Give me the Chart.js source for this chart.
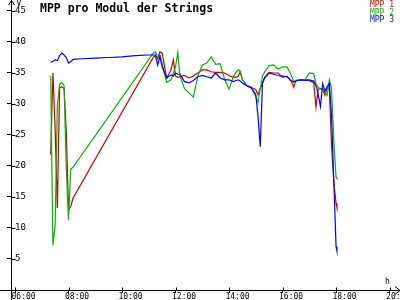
<!DOCTYPE html>
<html>
<head>
<meta charset="utf-8">
<script src="https://cdn.jsdelivr.net/npm/chart.js@4"></script>
<style>
  html, body { margin: 0; padding: 0; background: #fff; }
</style>
</head>
<body>
<canvas id="chart" width="400" height="300"></canvas>
<script>
// shared sample times (red/green have no samples between 08:10 and 11:10)
const times = [
    '07:20', '07:25', '07:30', '07:35', '07:40', '07:45', '07:50', '07:55', '08:00', '08:05', '08:10',
    '08:30', '09:00', '09:30', '10:00', '10:30', '11:00',
    '11:10', '11:15', '11:20', '11:25', '11:30', '11:40', '11:50', '11:55',
    '12:00', '12:05', '12:10', '12:20', '12:30', '12:40', '12:50',
    '13:00', '13:10', '13:20', '13:30', '13:40', '13:50',
    '14:00', '14:10', '14:20', '14:25', '14:30', '14:40', '14:50',
    '15:00', '15:05', '15:10', '15:15', '15:20', '15:30', '15:40', '15:50',
    '16:00', '16:10', '16:20', '16:25', '16:30', '16:40', '16:50',
    '17:00', '17:10', '17:15', '17:20', '17:25', '17:30', '17:35', '17:40', '17:45', '17:50', '17:55',
    '18:00', '18:02'
];

const mpp1 = [
    21.8, 35.0, 26.0, 13.2, 32.6, 32.8, 32.5, 25.6, 12.9, 13.5, 14.8,
    null, null, null, null, null, null,
    37.5, 37.8, 37.3, 38.4, 38.2, 34.2, 35.5, 37.1,
    34.5, 34.3, 34.4, 34.6, 34.2, 34.5, 35.0,
    35.5, 35.5, 35.2, 35.1, 35.1, 35.0,
    34.6, 34.3, 34.4, 35.2, 33.9, 33.0, 32.7,
    32.3, 31.5, 32.5, 33.4, 34.3, 35.1, 35.0, 35.0,
    34.3, 34.5, 33.6, 32.7, 33.8, 33.9, 33.9,
    33.8, 33.4, 29.5, 32.4, 32.5, 32.3, 31.4, 32.6, 32.5, 23.0, 17.5,
    14.0, 13.3
];

const mpp2 = [
    34.5, 7.2, 10.5, 29.8, 33.2, 33.5, 33.0, 19.8, 11.3, 19.5, 19.8,
    null, null, null, null, null, null,
    38.2, 38.4, 37.5, 37.8, 36.5, 33.5, 33.9, 35.0,
    36.0, 38.3, 34.5, 32.5, 31.8, 31.1, 34.5,
    36.3, 36.6, 37.6, 36.4, 36.5, 34.0,
    32.4, 34.5, 35.5, 35.3, 33.9, 33.0, 32.6,
    31.2, 30.2, 32.5, 34.5, 35.2, 36.2, 36.3, 35.6,
    36.0, 36.0, 34.6, 33.5, 33.8, 33.9, 33.8,
    35.0, 34.9, 33.2, 32.7, 32.4, 32.5, 31.8, 31.4, 33.9, 32.5, 24.0,
    18.2, 18.0
];

const mpp3 = [
    36.7, 36.9, 37.1, 37.0, 37.8, 38.2, 37.9, 37.5, 36.6, 36.8, 37.2,
    37.3, 37.4, 37.5, 37.6, 37.8, 37.9,
    37.9, 37.9, 36.3, 37.7, 36.0, 34.2, 34.7, 34.5,
    35.0, 34.8, 34.8, 33.6, 33.4, 33.8, 34.4,
    34.6, 34.4, 34.2, 35.0, 34.2, 33.9,
    33.9, 33.6, 33.9, 33.7, 33.4, 32.9, 32.6,
    31.5, 28.0, 23.1, 33.4, 34.2, 35.0, 34.8, 34.6,
    34.5, 34.4, 33.7, 33.6, 33.7, 33.9, 33.8,
    33.9, 33.7, 33.0, 31.5, 29.6, 33.3, 32.1, 32.8, 33.3, 28.0, 17.5,
    7.0, 6.3
];

const seriesLabels = ['MPP 1', 'MPP 2', 'MPP 3'];
const seriesColors = ['#c80000', '#00b400', '#0000ff'];
const titleText = 'MPP pro Modul der Strings';

function toHours(t) {
    const p = t.split(':');
    return +p[0] + p[1] / 60;
}

function points(values) {
    return times.map((t, i) => ({ x: toHours(t), y: values[i] }));
}

const monoFont = '"DejaVu Sans Mono", "Liberation Mono", monospace';

// title, legend, arrows and the inner halves of the tick marks
const decor = {
    id: 'decor',
    afterDraw(chart) {
        const ctx = chart.ctx;
        const a = chart.chartArea;
        const xs = chart.scales.x;
        const ys = chart.scales.y;
        const x0 = Math.round(a.left) + 0.5;
        const y0 = Math.round(a.bottom) + 0.5;

        ctx.save();
        ctx.strokeStyle = '#000';
        ctx.lineWidth = 1;
        ctx.beginPath();
        ctx.moveTo(0, y0); ctx.lineTo(a.left, y0);
        ctx.moveTo(x0, 0); ctx.lineTo(x0, a.top);
        ctx.moveTo(x0, a.bottom); ctx.lineTo(x0, chart.height);
        ctx.moveTo(x0 - 3, 5); ctx.lineTo(x0, 0.5); ctx.lineTo(x0 + 3, 5);
        ctx.moveTo(a.right - 5, y0 - 4); ctx.lineTo(a.right, y0); ctx.lineTo(a.right - 5, y0 + 4);
        xs.ticks.forEach(t => {
            const px = Math.round(xs.getPixelForValue(t.value)) + 0.5;
            ctx.moveTo(px, y0 - 3); ctx.lineTo(px, y0);
        });
        ys.ticks.forEach(t => {
            if (t.value === 0) return;
            const py = Math.round(ys.getPixelForValue(t.value)) + 0.5;
            ctx.moveTo(x0, py); ctx.lineTo(x0 + 4, py);
        });
        ctx.stroke();

        ctx.fillStyle = '#000';
        ctx.textBaseline = 'alphabetic';
        ctx.font = '8px ' + monoFont;
        ctx.fillText('V', x0 + 5, 6);
        ctx.fillText('h', a.right - 15, 284);

        ctx.font = 'bold 11.5px ' + monoFont;
        ctx.fillText(titleText, 40, 12);

        ctx.font = '8px ' + monoFont;
        ctx.textAlign = 'right';
        chart.data.datasets.forEach((ds, i) => {
            ctx.fillStyle = ds.borderColor;
            ctx.fillText(ds.label, 394, 7 + i * 7.5);
        });
        ctx.restore();
    }
};

const allValues = [mpp1, mpp2, mpp3];
const drawOrder = [3, 2, 1];

new Chart(document.getElementById('chart'), {
    type: 'line',
    data: {
        datasets: allValues.map((values, i) => ({
            label: seriesLabels[i],
            data: points(values),
            borderColor: seriesColors[i],
            backgroundColor: seriesColors[i],
            borderWidth: 1.2,
            pointRadius: 0,
            tension: 0,
            spanGaps: true,
            order: drawOrder[i]
        }))
    },
    options: {
        responsive: false,
        animation: false,
        devicePixelRatio: 1,
        layout: { padding: { left: 3, right: 0, top: 2, bottom: -1 } },
        plugins: {
            legend: { display: false },
            title: { display: false },
            tooltip: { enabled: false }
        },
        scales: {
            x: {
                type: 'linear',
                min: 5.85,
                max: 20.39,
                border: { color: '#000', width: 1 },
                grid: { drawOnChartArea: false, tickLength: 3, color: '#000' },
                ticks: {
                    stepSize: 2,
                    includeBounds: false,
                    autoSkip: false,
                    maxRotation: 0,
                    padding: 0,
                    align: 'start',
                    labelOffset: -3.5,
                    color: '#000',
                    font: { family: monoFont, size: 8, lineHeight: 1 },
                    callback: v => (v < 10 ? '0' : '') + v + ':00'
                },
                afterFit: s => { s.paddingLeft = 0; s.paddingRight = 0; }
            },
            y: {
                min: 0,
                max: 46.45,
                border: { color: '#000', width: 1 },
                grid: { drawOnChartArea: false, tickLength: 4, color: '#000' },
                ticks: {
                    stepSize: 5,
                    includeBounds: false,
                    mirror: true,
                    padding: 4,
                    color: '#000',
                    font: { family: monoFont, size: 9 },
                    callback: v => (v === 0 ? '' : v)
                },
                afterFit: s => { s.width = 8; s.paddingTop = 0; s.paddingBottom = 0; }
            }
        }
    },
    plugins: [decor]
});
</script>
</body>
</html>
